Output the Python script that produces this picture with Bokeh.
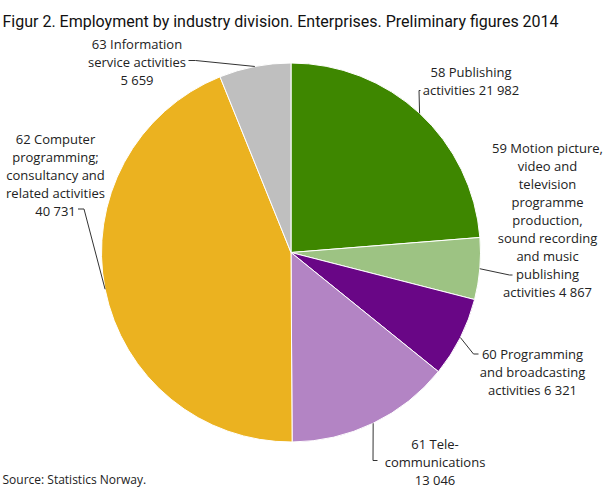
import math
from bokeh.plotting import figure
from bokeh.models import Range1d
from bokeh.core.properties import value
from bokeh.embed import file_html
from bokeh.resources import INLINE

# data
divisions = ["58", "59", "60", "61", "62", "63"]
employees = [21982, 4867, 6321, 13046, 40731, 5659]
label_text = [
    ["58 Publishing", "activities {v}"],
    ["59 Motion picture,", "video and", "television", "programme", "production,",
     "sound recording", "and music", "publishing", "activities {v}"],
    ["60 Programming", "and broadcasting", "activities {v}"],
    ["61 Tele-", "communications", "{v}"],
    ["62 Computer", "programming;", "consultancy and", "related activities", "{v}"],
    ["63 Information", "service activities", "{v}"],
]
colors = ["#3e8700", "#9dc383", "#690686", "#b384c4", "#ebb220", "#bfbfbf"]

# layout (screen pixels, y measured downwards)
W, H = 609, 488
CX, CY, R = 290.5, 252, 189.5
LINE_H = 18
# text centre x, first baseline y, connector elbow points (outer end first)
label_layout = [
    (470.5, 71, [(420, 90), (418.5, 90)]),
    (547, 147, [(512, 274.5), (509, 274.5)]),
    (532, 353.5, [(478, 353.5), (473, 353.5)]),
    (434.5, 443.5, [(377, 460), (372.5, 460)]),
    (55, 138, [(77.5, 208.5), (83.5, 208.5)]),
    (136.5, 43, [(188, 60), (195, 60)]),
]


def fy(y):
    return H - y


def fmt(v):
    return f"{v:,}".replace(",", " ")


p = figure(width=W, height=H, output_backend="svg", toolbar_location=None,
           x_range=Range1d(0, W), y_range=Range1d(0, H),
           min_border=0, outline_line_color=None)
p.axis.visible = False
p.grid.visible = False
p.background_fill_color = "white"

total = sum(employees)
starts, ends, mids = [], [], []
cum = 0
for v in employees:
    a0 = math.pi / 2 - cum / total * 2 * math.pi
    cum += v
    a1 = math.pi / 2 - cum / total * 2 * math.pi
    starts.append(a0)
    ends.append(a1)
    mids.append((a0 + a1) / 2)

p.wedge(x=CX, y=fy(CY), radius=R, start_angle=starts, end_angle=ends,
        direction="clock", fill_color=colors, line_color="white", line_width=1)

# connectors and labels
xs, ys = [], []
tx, ty, tt = [], [], []
for i, v in enumerate(employees):
    cx_t, y0, elbow = label_layout[i]
    ax = CX + R * math.cos(mids[i])
    ay = CY - R * math.sin(mids[i])
    pts = elbow + [(ax, ay)]
    xs.append([q[0] for q in pts])
    ys.append([fy(q[1]) for q in pts])
    for j, line in enumerate(label_text[i]):
        tx.append(cx_t)
        ty.append(fy(y0 + j * LINE_H))
        tt.append(line.format(v=fmt(v)))

p.multi_line(xs, ys, line_color="#333333", line_width=1)
p.text(tx, ty, text=tt, text_font=value("Open Sans"), text_font_size="13px",
       text_align="center", text_baseline="alphabetic", text_color="#222222")

p.text([2], [fy(21)], text=["Figur 2. Employment by industry division. Enterprises. Preliminary figures 2014"],
       text_font=value("Roboto"), text_font_size="16px",
       text_align="left", text_baseline="alphabetic", text_color="#111111")
p.text([2], [fy(479)], text=["Source: Statistics Norway."],
       text_font=value("Open Sans"), text_font_size="12px",
       text_align="left", text_baseline="alphabetic", text_color="#222222")

open("out.html", "w").write(file_html(p, INLINE))
